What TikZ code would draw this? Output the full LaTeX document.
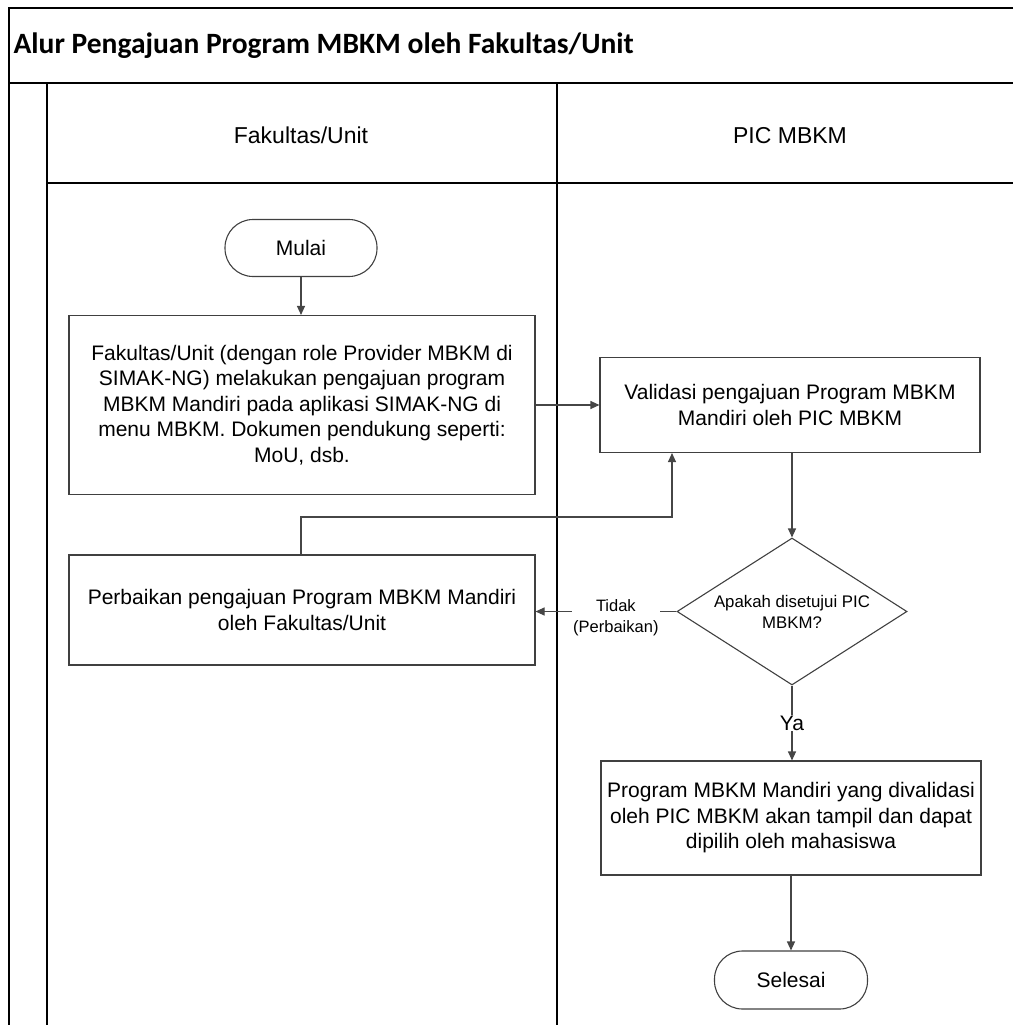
\documentclass[tikz,border=0pt]{standalone}
\usepackage{fontspec}
\setmainfont{Liberation Sans}
\newfontfamily\titlefont{Carlito}
\usetikzlibrary{shapes.geometric,arrows.meta}
\definecolor{boxgray}{RGB}{64,64,64}
\definecolor{linegray}{RGB}{70,70,70}
\tikzset{
  procbox/.style={draw=boxgray, line width=1.1pt, align=center, inner sep=0pt,
     font=\fontsize{21}{25.5}\selectfont},
  termbox/.style={draw=boxgray, line width=1.1pt, rounded corners=28pt, inner sep=0pt,
     font=\fontsize{21}{26}\selectfont},
  decbox/.style={draw=boxgray, line width=1.1pt, diamond, inner sep=0pt, aspect=1.56,
     align=center, font=\fontsize{16.8}{21}\selectfont},
  flow/.style={draw=linegray, line width=1.1pt, -{Triangle[length=9pt,width=8pt]}},
  lbl/.style={fill=white, inner sep=1pt, align=center},
  lane/.style={draw=black, line width=1.4pt},
  lanehead/.style={anchor=base, font=\fontsize{23}{28}\selectfont},
}
\begin{document}
\begin{tikzpicture}[x=1pt,y=-1pt]
\useasboundingbox (0,0) rectangle (1013,1025);
% pool frame
\draw[lane] (1013,8) -- (9,8) -- (9,1025);
\draw[draw=black, line width=2.4pt] (9,83) -- (1013,83);
\draw[lane] (47,83) -- (47,1025);
\draw[lane] (47,183) -- (1013,183);
\draw[lane] (557,83) -- (557,1025);
\node[anchor=west, font=\titlefont\bfseries\fontsize{29.5}{34}\selectfont] (title) at (10,46) {Alur Pengajuan Program MBKM oleh Fakultas/Unit};
\node[lanehead] (lane1) at (301,143) {Fakultas/Unit};
\node[lanehead] (lane2) at (790,143) {PIC MBKM};

% nodes
\node[termbox, minimum width=152pt, minimum height=57pt] (mulai) at (301,248) {Mulai};
\node[procbox, minimum width=466pt, minimum height=179pt] (aju) at (302,405)
  {Fakultas/Unit (dengan role Provider MBKM di\\SIMAK-NG) melakukan pengajuan program\\MBKM Mandiri pada aplikasi SIMAK-NG di\\menu MBKM. Dokumen pendukung seperti:\\MoU, dsb.};
\node[procbox, minimum width=380pt, minimum height=95pt] (valid) at (790,405)
  {Validasi pengajuan Program MBKM\\Mandiri oleh PIC MBKM};
\node[decbox, minimum width=230pt, minimum height=147pt] (dec) at (792,611.5)
  {Apakah disetujui PIC\\MBKM?};
\node[procbox, minimum width=466pt, minimum height=110pt] (perb) at (302,610)
  {Perbaikan pengajuan Program MBKM Mandiri\\oleh Fakultas/Unit};
\node[procbox, minimum width=380pt, minimum height=114pt] (hasil) at (791,818)
  {Program MBKM Mandiri yang divalidasi\\oleh PIC MBKM akan tampil dan dapat\\dipilih oleh mahasiswa};
\node[termbox, minimum width=153pt, minimum height=58pt] (selesai) at (791,980) {Selesai};

% connectors
\draw[flow] (mulai) -- (aju.north -| mulai);
\draw[flow] (aju.east) -- (valid.west);
\draw[flow] (valid.south -| dec.north) -- (dec.north);
\coordinate (c1) at (301,517);
\coordinate (c2) at (672,517);
\draw[flow] (perb.north -| c1) -- (c1) -- (c2) -- (c2 |- valid.south);
\draw[flow] (dec.west) -- node[lbl, font=\fontsize{16.5}{21}\selectfont, pos=0.43, yshift=-6pt] {Tidak\\(Perbaikan)} (perb.east |- dec.west);
\draw[flow] (dec.south) -- node[lbl, font=\fontsize{21}{24}\selectfont, pos=0.5] {Ya} (dec.south |- hasil.north);
\draw[flow] (hasil.south -| selesai.north) -- (selesai.north);
\end{tikzpicture}
\end{document}
